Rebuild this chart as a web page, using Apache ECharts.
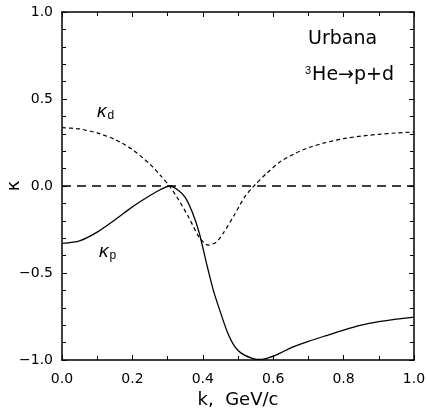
<!DOCTYPE html>
<html>
<head>
<meta charset="utf-8">
<script src="https://cdn.jsdelivr.net/npm/echarts@6/dist/echarts.min.js"></script>
<style>
  html, body { margin: 0; padding: 0; background: #fff; }
  #box { width: 427px; height: 410px; }
</style>
</head>
<body>
<div id="box"></div>
<script>
// kappa_d (dotted curve)
var kdX = [0.0, 0.05, 0.1, 0.15, 0.2, 0.25, 0.28, 0.305, 0.33, 0.36, 0.39, 0.415, 0.44, 0.46, 0.49, 0.52, 0.55, 0.58, 0.62, 0.66, 0.7, 0.75, 0.8, 0.85, 0.9, 0.95, 1.0];
var kdY = [0.335, 0.328, 0.305, 0.268, 0.21, 0.125, 0.06, 0.0, -0.075, -0.18, -0.295, -0.34, -0.32, -0.265, -0.165, -0.06, 0.01, 0.07, 0.14, 0.185, 0.22, 0.25, 0.272, 0.287, 0.297, 0.305, 0.31];
// kappa_p (solid curve)
var kpX = [0.0, 0.05, 0.1, 0.15, 0.2, 0.25, 0.28, 0.307, 0.33, 0.35, 0.37, 0.39, 0.41, 0.43, 0.45, 0.47, 0.49, 0.51, 0.54, 0.565, 0.59, 0.62, 0.65, 0.7, 0.75, 0.8, 0.85, 0.9, 0.95, 1.0];
var kpY = [-0.33, -0.315, -0.265, -0.195, -0.12, -0.055, -0.02, 0.0, -0.025, -0.065, -0.15, -0.27, -0.44, -0.6, -0.725, -0.84, -0.92, -0.962, -0.99, -0.997, -0.985, -0.96, -0.93, -0.893, -0.86, -0.828, -0.8, -0.78, -0.765, -0.753];
// zero reference line
var zeroX = [0.0, 1.0];
var zeroY = [0.0, 0.0];

function pairs(xs, ys) {
  return xs.map(function (x, i) { return [x, ys[i]]; });
}

var font = "'DejaVu Sans', sans-serif";
var myCharts = echarts.init(document.getElementById("box"));

var tickStyle = { show: true, inside: true, length: 5, lineStyle: { color: "#000", width: 1 } };
var lineAx = { show: true, onZero: false, lineStyle: { color: "#000", width: 1.5 } };

var option = {
  animation: false,
  backgroundColor: "#fff",
  grid: { left: 62, right: 13, top: 12, bottom: 50, containLabel: false, outerBoundsMode: "none" },
  xAxis: [
    {
      type: "value", min: 0, max: 1, interval: 0.2, position: "bottom",
      axisLine: lineAx, axisTick: tickStyle,
      minorTick: { show: true, splitNumber: 2, length: 4, lineStyle: { color: "#000" } },
      splitLine: { show: false },
      axisLabel: { color: "#000", fontSize: 14, fontFamily: font, margin: 12,
        formatter: function (v) { return v.toFixed(1); } },
      name: "k,  GeV/c", nameLocation: "middle", nameGap: 28,
      nameTextStyle: { color: "#000", fontSize: 18, fontFamily: font }
    },
    {
      type: "value", min: 0, max: 1, interval: 0.2, position: "top",
      axisLine: lineAx, axisTick: tickStyle,
      minorTick: { show: true, splitNumber: 2, length: 4, lineStyle: { color: "#000" } },
      splitLine: { show: false }, axisLabel: { show: false }
    }
  ],
  yAxis: [
    {
      type: "value", min: -1, max: 1, interval: 0.5, position: "left",
      axisLine: lineAx, axisTick: tickStyle,
      minorTick: { show: true, splitNumber: 5, length: 4, lineStyle: { color: "#000" } },
      splitLine: { show: false },
      axisLabel: { color: "#000", fontSize: 14, fontFamily: font, margin: 9,
        formatter: function (v) { return v.toFixed(1).replace("-", "\u2212"); } }
    },
    {
      type: "value", min: -1, max: 1, interval: 0.5, position: "right",
      axisLine: lineAx, axisTick: tickStyle,
      minorTick: { show: true, splitNumber: 5, length: 4, lineStyle: { color: "#000" } },
      splitLine: { show: false }, axisLabel: { show: false }
    }
  ],
  series: [
    {
      name: "zero", type: "line", data: pairs(zeroX, zeroY), symbol: "none",
      lineStyle: { color: "#000", width: 1.4, type: [9, 6] }
    },
    {
      name: "kd", type: "line", data: pairs(kdX, kdY), symbol: "none", smooth: 0.25,
      lineStyle: { color: "#000", width: 1.2, type: [4, 3] }
    },
    {
      name: "kp", type: "line", data: pairs(kpX, kpY), symbol: "none", smooth: 0.25,
      lineStyle: { color: "#000", width: 1.3 }
    }
  ],
  graphic: [
    // y axis title, rotated
    { type: "text", x: 14, y: 186, rotation: Math.PI / 2,
      style: { text: "\u03ba", fontSize: 18, fontFamily: font, fill: "#000", align: "center", verticalAlign: "middle" } },
    { type: "text", left: 308, top: 30, style: { text: "Urbana", fontSize: 19, fontFamily: font, fill: "#000" } },
    { type: "text", left: 305, top: 65, style: { text: "{s|3}He\u2192p+d", fontFamily: font, fill: "#000", fontSize: 19,
        rich: { s: { fontSize: 11, verticalAlign: "top", padding: [0, 1, 9, 0] } } } },
    { type: "text", left: 97, top: 102, style: { text: "{k|\u03ba}{d|d}", fill: "#000", fontFamily: font,
        rich: { k: { fontSize: 19, fontStyle: "italic" }, d: { fontSize: 12, padding: [9, 0, 0, 1] } } } },
    { type: "text", left: 99, top: 242, style: { text: "{k|\u03ba}{d|p}", fill: "#000", fontFamily: font,
        rich: { k: { fontSize: 19, fontStyle: "italic" }, d: { fontSize: 12, padding: [9, 0, 0, 1] } } } }
  ]
};
myCharts.setOption(option);
</script>
</body>
</html>
